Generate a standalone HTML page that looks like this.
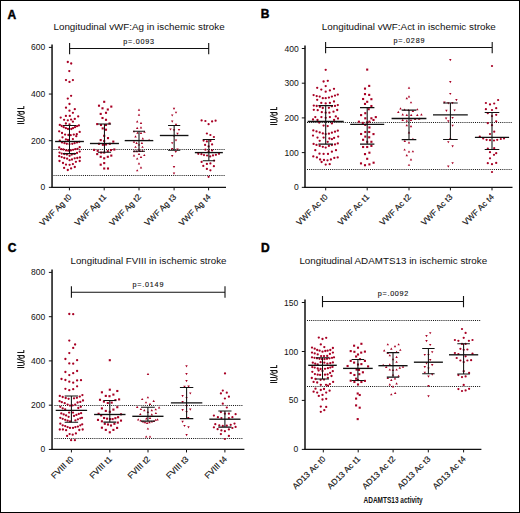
<!DOCTYPE html>
<html><head><meta charset="utf-8"><title>Longitudinal vWF, FVIII, ADAMTS13 in ischemic stroke</title>
<style>
html,body{margin:0;padding:0;background:#fff;}
body{width:520px;height:513px;overflow:hidden;}
svg{display:block;font-family:"Liberation Sans",sans-serif;}
.let{font-size:12.0px;font-weight:bold;fill:#000;stroke:#000;stroke-width:0.45;}
.tit{font-size:9.6px;fill:#111;}
.pt{font-size:7.2px;fill:#111;stroke:#111;stroke-width:0.12;}
.yl{font-size:8.5px;fill:#111;text-anchor:end;}
.xl{font-size:8.3px;fill:#111;text-anchor:end;stroke:#111;stroke-width:0.15;}
.ylp{stroke:#151515;stroke-width:1.05;fill:none;}
.ylab{font-size:9.0px;fill:#111;text-anchor:middle;font-weight:bold;}
.br{stroke:#111;stroke-width:1.1;fill:none;}
.dt{stroke:#111;stroke-width:1.0;stroke-dasharray:1 1.1;fill:none;}
.ax{stroke:#111;stroke-width:1.5;fill:none;}
.axx{stroke:#111;stroke-width:1.25;fill:none;}
.tk{stroke:#111;stroke-width:1;fill:none;}
.vt{stroke:#111;stroke-width:1.05;fill:none;}
.iq{stroke:#111;stroke-width:1.05;fill:none;}
.md{stroke:#111;stroke-width:1.35;fill:none;}
.xt{font-size:9.8px;fill:#111;font-weight:bold;}
</style></head>
<body>
<svg width="520" height="513" viewBox="0 0 520 513">
<rect x="0" y="0" width="520" height="513" fill="#fff"/>
<rect x="0.5" y="0.5" width="519" height="512" fill="none" stroke="#000" stroke-width="1"/>
<text x="7.6" y="18.8" class="let">A</text>
<text x="53.5" y="29.7" class="tit" textLength="171.2" lengthAdjust="spacingAndGlyphs">Longitudinal vWF:Ag in ischemic stroke</text>
<text x="123.3" y="43.6" class="pt" textLength="30.7" lengthAdjust="spacing">p=.0093</text>
<path class="br" d="M69.6 48.45H208.7 M69.6 43V54.3 M208.7 43V54.3"/>
<path class="dt" d="M53.5 149.5H225.2"/>
<path class="dt" d="M53.5 175.5H225.2"/>
<path class="ax" d="M52.05 44.5V188"/>
<path class="axx" d="M51.3 187.35H226"/>
<path class="tk" d="M48.85 47.4H52.05"/>
<text x="45.3" y="50.4" class="yl">600</text>
<path class="tk" d="M48.85 94.05H52.05"/>
<text x="45.3" y="97.05" class="yl">400</text>
<path class="tk" d="M48.85 140.7H52.05"/>
<text x="45.3" y="143.7" class="yl">200</text>
<path class="tk" d="M48.85 187.35H52.05"/>
<text x="45.3" y="190.35" class="yl">0</text>
<path class="tk" d="M69.4 187.35V190.35"/>
<text class="xl" transform="translate(72 197.55) rotate(-45)" textLength="40.85" lengthAdjust="spacing">VWF Ag t0</text>
<path class="tk" d="M104.2 187.35V190.35"/>
<text class="xl" transform="translate(106.8 197.55) rotate(-45)" textLength="40.85" lengthAdjust="spacing">VWF Ag t1</text>
<path class="tk" d="M139 187.35V190.35"/>
<text class="xl" transform="translate(141.6 197.55) rotate(-45)" textLength="40.85" lengthAdjust="spacing">VWF Ag t2</text>
<path class="tk" d="M174.1 187.35V190.35"/>
<text class="xl" transform="translate(176.7 197.55) rotate(-45)" textLength="40.85" lengthAdjust="spacing">VWF Ag t3</text>
<path class="tk" d="M208.6 187.35V190.35"/>
<text class="xl" transform="translate(211.2 197.55) rotate(-45)" textLength="40.85" lengthAdjust="spacing">VWF Ag t4</text>
<path class="ylp" transform="translate(24.3 124) rotate(-90)" d="M0.5 0V-7 M2.5 -7V-2.2Q2.5 0 4.0 0Q5.5 0 5.5 -2.2V-7 M6.6 0.3L9.2 -7.3 M12.5 -7V0M12.5 -2.6Q12.5 -5.3 11.1 -5.3Q9.8 -5.3 9.8 -2.6Q9.8 0 11.1 0Q12.5 0 12.5 -2.6 M15.5 -7V-0.5H17.9"/>
<g fill="#a80024"><circle cx="67.8" cy="62" r="1.15"/><circle cx="71.2" cy="63.5" r="1.15"/><circle cx="69.3" cy="71.1" r="1.15"/><circle cx="66" cy="80.1" r="1.15"/><circle cx="72.9" cy="80.1" r="1.15"/><circle cx="69.5" cy="81.9" r="1.15"/><circle cx="71.1" cy="95.8" r="1.15"/><circle cx="67.8" cy="98.6" r="1.15"/><circle cx="69.5" cy="104" r="1.15"/><circle cx="66" cy="107.7" r="1.15"/><circle cx="74.8" cy="109.2" r="1.15"/><circle cx="69.5" cy="110.7" r="1.15"/><circle cx="72.9" cy="112.8" r="1.15"/><circle cx="65.9" cy="115.9" r="1.15"/><circle cx="69.8" cy="115.9" r="1.15"/><circle cx="60.7" cy="117.6" r="1.15"/><circle cx="78.2" cy="116.4" r="1.15"/><circle cx="64.1" cy="119.8" r="1.15"/><circle cx="67.8" cy="120.3" r="1.15"/><circle cx="71.1" cy="119.6" r="1.15"/><circle cx="74.8" cy="118.9" r="1.15"/><circle cx="72.9" cy="121.7" r="1.15"/><circle cx="65.9" cy="123.5" r="1.15"/><circle cx="69.5" cy="124.3" r="1.15"/><circle cx="59.8" cy="124.9" r="1.15"/><circle cx="61.7" cy="126" r="1.15"/><circle cx="63.7" cy="127.2" r="1.15"/><circle cx="65.9" cy="128.2" r="1.15"/><circle cx="68" cy="129" r="1.15"/><circle cx="71.3" cy="129" r="1.15"/><circle cx="73" cy="128.2" r="1.15"/><circle cx="75" cy="127.2" r="1.15"/><circle cx="77" cy="126.2" r="1.15"/><circle cx="78.9" cy="125.4" r="1.15"/><circle cx="59.2" cy="131.3" r="1.15"/><circle cx="62" cy="133" r="1.15"/><circle cx="65.1" cy="134.6" r="1.15"/><circle cx="68.4" cy="135" r="1.15"/><circle cx="70.7" cy="135.2" r="1.15"/><circle cx="73.8" cy="134.6" r="1.15"/><circle cx="76.8" cy="134.2" r="1.15"/><circle cx="79.7" cy="131.9" r="1.15"/><circle cx="76.3" cy="136.2" r="1.15"/><circle cx="62.5" cy="137.3" r="1.15"/><circle cx="65.9" cy="139.4" r="1.15"/><circle cx="68" cy="140" r="1.15"/><circle cx="72.9" cy="139.1" r="1.15"/><circle cx="59.8" cy="140.7" r="1.15"/><circle cx="62" cy="142.4" r="1.15"/><circle cx="64.5" cy="143.2" r="1.15"/><circle cx="66.8" cy="143.8" r="1.15"/><circle cx="69.5" cy="144.1" r="1.15"/><circle cx="72.3" cy="143.8" r="1.15"/><circle cx="74.6" cy="143.2" r="1.15"/><circle cx="77" cy="142.4" r="1.15"/><circle cx="79.3" cy="141.8" r="1.15"/><circle cx="59.2" cy="147.5" r="1.15"/><circle cx="79.7" cy="147.2" r="1.15"/><circle cx="61.2" cy="149.2" r="1.15"/><circle cx="63.4" cy="149.5" r="1.15"/><circle cx="66" cy="150.4" r="1.15"/><circle cx="68.2" cy="150.7" r="1.15"/><circle cx="70.9" cy="150.4" r="1.15"/><circle cx="73.1" cy="149.8" r="1.15"/><circle cx="75.3" cy="149.2" r="1.15"/><circle cx="77.5" cy="148.8" r="1.15"/><circle cx="59.5" cy="152.6" r="1.15"/><circle cx="61.7" cy="153.6" r="1.15"/><circle cx="64.3" cy="154" r="1.15"/><circle cx="66.9" cy="154.5" r="1.15"/><circle cx="69.6" cy="155.8" r="1.15"/><circle cx="71.8" cy="154.5" r="1.15"/><circle cx="74.4" cy="153.9" r="1.15"/><circle cx="77" cy="153" r="1.15"/><circle cx="79.7" cy="151.6" r="1.15"/><circle cx="59.2" cy="156.2" r="1.15"/><circle cx="61.7" cy="157.1" r="1.15"/><circle cx="64.3" cy="158" r="1.15"/><circle cx="67.1" cy="158.7" r="1.15"/><circle cx="69.6" cy="160.2" r="1.15"/><circle cx="72" cy="159.5" r="1.15"/><circle cx="74.7" cy="158.3" r="1.15"/><circle cx="77.3" cy="158" r="1.15"/><circle cx="79.9" cy="157.4" r="1.15"/><circle cx="59.5" cy="161" r="1.15"/><circle cx="63" cy="163" r="1.15"/><circle cx="66" cy="164.6" r="1.15"/><circle cx="69.6" cy="164.8" r="1.15"/><circle cx="72.9" cy="164.1" r="1.15"/><circle cx="75.9" cy="161.8" r="1.15"/><circle cx="79.7" cy="161" r="1.15"/><circle cx="64.1" cy="167.9" r="1.15"/><circle cx="67.8" cy="170" r="1.15"/><circle cx="71.1" cy="168.4" r="1.15"/><circle cx="74.8" cy="167" r="1.15"/><rect x="103.15" y="100.75" width="2.1" height="2.1"/><rect x="97.95" y="104.65" width="2.1" height="2.1"/><rect x="110.25" y="105.55" width="2.1" height="2.1"/><rect x="101.45" y="107.25" width="2.1" height="2.1"/><rect x="106.75" y="108.45" width="2.1" height="2.1"/><rect x="104.95" y="111.75" width="2.1" height="2.1"/><rect x="99.65" y="112.85" width="2.1" height="2.1"/><rect x="101.45" y="116.95" width="2.1" height="2.1"/><rect x="104.95" y="118.75" width="2.1" height="2.1"/><rect x="96.15" y="123.05" width="2.1" height="2.1"/><rect x="99.95" y="123.95" width="2.1" height="2.1"/><rect x="104.95" y="123.95" width="2.1" height="2.1"/><rect x="108.45" y="122.45" width="2.1" height="2.1"/><rect x="101.65" y="127.35" width="2.1" height="2.1"/><rect x="104.95" y="128.65" width="2.1" height="2.1"/><rect x="103.15" y="134.75" width="2.1" height="2.1"/><rect x="106.95" y="137.05" width="2.1" height="2.1"/><rect x="99.65" y="139.05" width="2.1" height="2.1"/><rect x="103.15" y="139.95" width="2.1" height="2.1"/><rect x="112.25" y="140.55" width="2.1" height="2.1"/><rect x="97.95" y="142.75" width="2.1" height="2.1"/><rect x="101.85" y="143.75" width="2.1" height="2.1"/><rect x="104.95" y="143.45" width="2.1" height="2.1"/><rect x="108.75" y="142.75" width="2.1" height="2.1"/><rect x="93.05" y="148.85" width="2.1" height="2.1"/><rect x="96.65" y="149.75" width="2.1" height="2.1"/><rect x="100.15" y="151.55" width="2.1" height="2.1"/><rect x="103.15" y="151.55" width="2.1" height="2.1"/><rect x="106.75" y="150.15" width="2.1" height="2.1"/><rect x="109.95" y="149.05" width="2.1" height="2.1"/><rect x="113.25" y="148.45" width="2.1" height="2.1"/><rect x="96.15" y="153.05" width="2.1" height="2.1"/><rect x="99.65" y="155.75" width="2.1" height="2.1"/><rect x="103.15" y="157.25" width="2.1" height="2.1"/><rect x="106.75" y="155.75" width="2.1" height="2.1"/><rect x="110.25" y="154.55" width="2.1" height="2.1"/><rect x="103.15" y="162.05" width="2.1" height="2.1"/><rect x="99.65" y="163.65" width="2.1" height="2.1"/><rect x="103.15" y="167.45" width="2.1" height="2.1"/><rect x="106.95" y="167.45" width="2.1" height="2.1"/><path d="M139 108.54L140.22 110.68L137.78 110.68Z"/><path d="M139 113.54L140.22 115.68L137.78 115.68Z"/><path d="M137.2 120.34L138.42 122.48L135.98 122.48Z"/><path d="M141 121.84L142.22 123.98L139.78 123.98Z"/><path d="M137.2 126.74L138.42 128.88L135.98 128.88Z"/><path d="M141 126.34L142.22 128.48L139.78 128.48Z"/><path d="M134 130.14L135.22 132.28L132.78 132.28Z"/><path d="M144.5 130.64L145.72 132.78L143.28 132.78Z"/><path d="M137.5 131.54L138.72 133.68L136.28 133.68Z"/><path d="M141 131.74L142.22 133.88L139.78 133.88Z"/><path d="M135.5 135.24L136.72 137.38L134.28 137.38Z"/><path d="M142.8 137.34L144.02 139.48L141.58 139.48Z"/><path d="M149.1 138.84L150.32 140.98L147.88 140.98Z"/><path d="M134 140.54L135.22 142.68L132.78 142.68Z"/><path d="M136.6 141.84L137.82 143.98L135.38 143.98Z"/><path d="M141.9 141.84L143.12 143.98L140.68 143.98Z"/><path d="M139 143.44L140.22 145.58L137.78 145.58Z"/><path d="M135.5 145.64L136.72 147.78L134.28 147.78Z"/><path d="M142.5 145.64L143.72 147.78L141.28 147.78Z"/><path d="M139 148.24L140.22 150.38L137.78 150.38Z"/><path d="M134.2 150.04L135.42 152.18L132.98 152.18Z"/><path d="M136.8 150.04L138.02 152.18L135.58 152.18Z"/><path d="M139.9 149.84L141.12 151.98L138.68 151.98Z"/><path d="M142.5 149.84L143.72 151.98L141.28 151.98Z"/><path d="M134 154.24L135.22 156.38L132.78 156.38Z"/><path d="M139 152.84L140.22 154.98L137.78 154.98Z"/><path d="M141 155.74L142.22 157.88L139.78 157.88Z"/><path d="M144.3 153.94L145.52 156.08L143.08 156.08Z"/><path d="M137.2 157.44L138.42 159.58L135.98 159.58Z"/><path d="M139 162.34L140.22 164.48L137.78 164.48Z"/><path d="M141 166.24L142.22 168.38L139.78 168.38Z"/><path d="M137.2 169.14L138.42 171.28L135.98 171.28Z"/><path d="M174 109.96L175.22 107.82L172.78 107.82Z"/><path d="M176 113.86L177.22 111.72L174.78 111.72Z"/><path d="M172.2 116.56L173.42 114.42L170.98 114.42Z"/><path d="M172.2 122.66L173.42 120.52L170.98 120.52Z"/><path d="M176 125.96L177.22 123.82L174.78 123.82Z"/><path d="M170.5 130.56L171.72 128.42L169.28 128.42Z"/><path d="M174 131.46L175.22 129.32L172.78 129.32Z"/><path d="M179 131.06L180.22 128.92L177.78 128.92Z"/><path d="M177.5 134.96L178.72 132.82L176.28 132.82Z"/><path d="M174 137.36L175.22 135.22L172.78 135.22Z"/><path d="M176 141.56L177.22 139.42L174.78 139.42Z"/><path d="M172.2 144.36L173.42 142.22L170.98 142.22Z"/><path d="M172.2 150.16L173.42 148.02L170.98 148.02Z"/><path d="M177.5 150.56L178.72 148.42L176.28 148.42Z"/><path d="M175.8 153.06L177.02 150.92L174.58 150.92Z"/><path d="M172.2 157.16L173.42 155.02L170.98 155.02Z"/><path d="M174 168.16L175.22 166.02L172.78 166.02Z"/><path d="M174 174.76L175.22 172.62L172.78 172.62Z"/><circle cx="201.6" cy="120.4" r="1.12"/><circle cx="205.4" cy="121" r="1.12"/><circle cx="212.1" cy="121.4" r="1.12"/><circle cx="215.6" cy="120.7" r="1.12"/><circle cx="208.6" cy="124.2" r="1.12"/><circle cx="206.9" cy="133.5" r="1.12"/><circle cx="210.4" cy="135" r="1.12"/><circle cx="213.9" cy="137" r="1.12"/><circle cx="203.6" cy="140.6" r="1.12"/><circle cx="206.9" cy="141.4" r="1.12"/><circle cx="210.4" cy="140.9" r="1.12"/><circle cx="205.1" cy="144.9" r="1.12"/><circle cx="212.1" cy="144.4" r="1.12"/><circle cx="208.6" cy="146.4" r="1.12"/><circle cx="205.4" cy="149.7" r="1.12"/><circle cx="212.1" cy="150.4" r="1.12"/><circle cx="208.6" cy="151.3" r="1.12"/><circle cx="198.3" cy="153.8" r="1.12"/><circle cx="201.4" cy="154.2" r="1.12"/><circle cx="204" cy="155.1" r="1.12"/><circle cx="207.1" cy="155.5" r="1.12"/><circle cx="210.2" cy="156.4" r="1.12"/><circle cx="213" cy="155.4" r="1.12"/><circle cx="215.9" cy="154.8" r="1.12"/><circle cx="219" cy="153.8" r="1.12"/><circle cx="214.1" cy="160.6" r="1.12"/><circle cx="201.6" cy="161.9" r="1.12"/><circle cx="206.9" cy="163.9" r="1.12"/><circle cx="210.4" cy="163.4" r="1.12"/><circle cx="203.3" cy="165.9" r="1.12"/><circle cx="213.9" cy="166.2" r="1.12"/><circle cx="206.9" cy="168.9" r="1.12"/><circle cx="210.4" cy="170.3" r="1.12"/><circle cx="208.6" cy="176.8" r="1.12"/></g>
<g><path class="vt" d="M69.5 125.4V153.6"/><path class="iq" d="M63 125.4H76 M63 153.6H76"/><path class="md" d="M55.1 141.5H83.9"/><path class="vt" d="M104.45 124V152.3"/><path class="iq" d="M97.85 124H111.05 M97.85 152.3H111.05"/><path class="md" d="M89.95 143.5H118.95"/><path class="vt" d="M139 131.3V151.3"/><path class="iq" d="M133 131.3H145 M133 151.3H145"/><path class="md" d="M124.7 140.6H153.3"/><path class="vt" d="M174.15 125.5V150.3"/><path class="iq" d="M168.05 125.5H180.25 M168.05 150.3H180.25"/><path class="md" d="M159.85 135.5H188.45"/><path class="vt" d="M208.85 139.4V160.8"/><path class="iq" d="M202.75 139.4H214.95 M202.75 160.8H214.95"/><path class="md" d="M194.85 152.6H222.85"/></g>
<text x="260.8" y="18" class="let">B</text>
<text x="321.8" y="29.6" class="tit" textLength="174" lengthAdjust="spacingAndGlyphs">Longitudinal vWF:Act in ischemic stroke</text>
<text x="393.6" y="42.7" class="pt" textLength="30.8" lengthAdjust="spacing">p=.0289</text>
<path class="br" d="M325.6 47.45H492.2 M325.6 41.9V53.2 M492.2 41.9V53.2"/>
<path class="dt" d="M307 122.5H512.2"/>
<path class="dt" d="M307 169.5H512.2"/>
<path class="ax" d="M305 45.5V188"/>
<path class="axx" d="M304.3 187.35H512.5"/>
<path class="tk" d="M301.8 48.5H305"/>
<text x="298.7" y="51.5" class="yl">400</text>
<path class="tk" d="M301.8 83.2H305"/>
<text x="298.7" y="86.2" class="yl">300</text>
<path class="tk" d="M301.8 117.9H305"/>
<text x="298.7" y="120.9" class="yl">200</text>
<path class="tk" d="M301.8 152.6H305"/>
<text x="298.7" y="155.6" class="yl">100</text>
<path class="tk" d="M301.8 187.35H305"/>
<text x="298.7" y="190.35" class="yl">0</text>
<path class="tk" d="M325.7 187.35V190.35"/>
<text class="xl" transform="translate(328.3 197.55) rotate(-45)" textLength="40.37" lengthAdjust="spacing">VWF Ac t0</text>
<path class="tk" d="M367.2 187.35V190.35"/>
<text class="xl" transform="translate(369.8 197.55) rotate(-45)" textLength="40.37" lengthAdjust="spacing">VWF Ac t1</text>
<path class="tk" d="M409 187.35V190.35"/>
<text class="xl" transform="translate(411.6 197.55) rotate(-45)" textLength="40.37" lengthAdjust="spacing">VWF Ac t2</text>
<path class="tk" d="M450.4 187.35V190.35"/>
<text class="xl" transform="translate(453 197.55) rotate(-45)" textLength="40.37" lengthAdjust="spacing">VWF Ac t3</text>
<path class="tk" d="M492 187.35V190.35"/>
<text class="xl" transform="translate(494.6 197.55) rotate(-45)" textLength="40.37" lengthAdjust="spacing">VWF Ac t4</text>
<path class="ylp" transform="translate(277.2 125) rotate(-90)" d="M0.5 0V-7 M2.5 -7V-2.2Q2.5 0 4.0 0Q5.5 0 5.5 -2.2V-7 M6.6 0.3L9.2 -7.3 M12.5 -7V0M12.5 -2.6Q12.5 -5.3 11.1 -5.3Q9.8 -5.3 9.8 -2.6Q9.8 0 11.1 0Q12.5 0 12.5 -2.6 M15.5 -7V-0.5H17.9"/>
<g fill="#a80024"><circle cx="325.7" cy="69.8" r="1.15"/><circle cx="323.6" cy="81.5" r="1.15"/><circle cx="327.8" cy="80.8" r="1.15"/><circle cx="325.7" cy="86.1" r="1.15"/><circle cx="317.2" cy="87.8" r="1.15"/><circle cx="321.3" cy="89.6" r="1.15"/><circle cx="334" cy="88.8" r="1.15"/><circle cx="329.9" cy="90.4" r="1.15"/><circle cx="325.7" cy="91.7" r="1.15"/><circle cx="313.6" cy="95.1" r="1.15"/><circle cx="316.7" cy="96.1" r="1.15"/><circle cx="319.7" cy="96.6" r="1.15"/><circle cx="322.8" cy="98.2" r="1.15"/><circle cx="325.7" cy="98.2" r="1.15"/><circle cx="328.9" cy="97.6" r="1.15"/><circle cx="331.9" cy="96.6" r="1.15"/><circle cx="335" cy="95.6" r="1.15"/><circle cx="337.8" cy="94.6" r="1.15"/><circle cx="317.2" cy="99.8" r="1.15"/><circle cx="321.3" cy="102.9" r="1.15"/><circle cx="325.7" cy="103.4" r="1.15"/><circle cx="329.9" cy="102.9" r="1.15"/><circle cx="334" cy="101.5" r="1.15"/><circle cx="313.8" cy="105.6" r="1.15"/><circle cx="316.7" cy="106" r="1.15"/><circle cx="319.9" cy="106.8" r="1.15"/><circle cx="322.8" cy="108" r="1.15"/><circle cx="328.9" cy="107.8" r="1.15"/><circle cx="331.9" cy="106.3" r="1.15"/><circle cx="335" cy="105.9" r="1.15"/><circle cx="337.8" cy="105.1" r="1.15"/><circle cx="313.8" cy="109.8" r="1.15"/><circle cx="317.7" cy="110.2" r="1.15"/><circle cx="337.2" cy="110" r="1.15"/><circle cx="321.8" cy="112.2" r="1.15"/><circle cx="325.7" cy="112.7" r="1.15"/><circle cx="329.4" cy="112.7" r="1.15"/><circle cx="333.5" cy="111.7" r="1.15"/><circle cx="315.3" cy="117.1" r="1.15"/><circle cx="321.4" cy="117.1" r="1.15"/><circle cx="325.7" cy="117.8" r="1.15"/><circle cx="329.9" cy="117.1" r="1.15"/><circle cx="335.8" cy="116.4" r="1.15"/><circle cx="338" cy="118.5" r="1.15"/><circle cx="313" cy="119.5" r="1.15"/><circle cx="317.5" cy="120" r="1.15"/><circle cx="319.2" cy="122.6" r="1.15"/><circle cx="331.9" cy="123.4" r="1.15"/><circle cx="334.1" cy="120" r="1.15"/><circle cx="323.6" cy="125.6" r="1.15"/><circle cx="327.7" cy="126.1" r="1.15"/><circle cx="313.3" cy="130.4" r="1.15"/><circle cx="316.5" cy="131.4" r="1.15"/><circle cx="319.7" cy="132.4" r="1.15"/><circle cx="322.8" cy="133.4" r="1.15"/><circle cx="325.7" cy="134.1" r="1.15"/><circle cx="328.9" cy="133.7" r="1.15"/><circle cx="331.9" cy="132.7" r="1.15"/><circle cx="335" cy="131.7" r="1.15"/><circle cx="337.8" cy="130.7" r="1.15"/><circle cx="313" cy="135.6" r="1.15"/><circle cx="317.5" cy="137.6" r="1.15"/><circle cx="323.6" cy="137.6" r="1.15"/><circle cx="329.4" cy="138.5" r="1.15"/><circle cx="331.9" cy="139.2" r="1.15"/><circle cx="334.1" cy="137.9" r="1.15"/><circle cx="338.2" cy="136.6" r="1.15"/><circle cx="319.7" cy="140.8" r="1.15"/><circle cx="327.7" cy="141.8" r="1.15"/><circle cx="313.6" cy="143.9" r="1.15"/><circle cx="316.5" cy="144.9" r="1.15"/><circle cx="319.7" cy="145.9" r="1.15"/><circle cx="322.8" cy="146.8" r="1.15"/><circle cx="325.7" cy="147.6" r="1.15"/><circle cx="328.9" cy="145.9" r="1.15"/><circle cx="331.9" cy="145.1" r="1.15"/><circle cx="335" cy="144.4" r="1.15"/><circle cx="337.8" cy="143.4" r="1.15"/><circle cx="315.3" cy="150.2" r="1.15"/><circle cx="336" cy="150.2" r="1.15"/><circle cx="319.5" cy="153.7" r="1.15"/><circle cx="323.6" cy="153.9" r="1.15"/><circle cx="328" cy="153.9" r="1.15"/><circle cx="331.9" cy="151.7" r="1.15"/><circle cx="313.3" cy="156.4" r="1.15"/><circle cx="316.9" cy="157.4" r="1.15"/><circle cx="320.1" cy="159.5" r="1.15"/><circle cx="324" cy="160" r="1.15"/><circle cx="327.5" cy="160.3" r="1.15"/><circle cx="330.9" cy="159.5" r="1.15"/><circle cx="334.3" cy="157.9" r="1.15"/><circle cx="337.7" cy="157.4" r="1.15"/><circle cx="321.6" cy="162" r="1.15"/><circle cx="325.7" cy="164.6" r="1.15"/><circle cx="329.7" cy="164.2" r="1.15"/><rect x="366.15" y="68.55" width="2.1" height="2.1"/><rect x="368.15" y="84.85" width="2.1" height="2.1"/><rect x="363.95" y="87.55" width="2.1" height="2.1"/><rect x="363.95" y="93.05" width="2.1" height="2.1"/><rect x="368.15" y="93.85" width="2.1" height="2.1"/><rect x="362.05" y="97.95" width="2.1" height="2.1"/><rect x="370.35" y="98.15" width="2.1" height="2.1"/><rect x="366.15" y="100.75" width="2.1" height="2.1"/><rect x="363.95" y="102.85" width="2.1" height="2.1"/><rect x="370.35" y="104.95" width="2.1" height="2.1"/><rect x="367.65" y="108.15" width="2.1" height="2.1"/><rect x="364.25" y="112.15" width="2.1" height="2.1"/><rect x="360.05" y="114.05" width="2.1" height="2.1"/><rect x="364.25" y="117.25" width="2.1" height="2.1"/><rect x="370.35" y="117.25" width="2.1" height="2.1"/><rect x="372.45" y="118.95" width="2.1" height="2.1"/><rect x="374.75" y="116.05" width="2.1" height="2.1"/><rect x="357.85" y="120.65" width="2.1" height="2.1"/><rect x="361.75" y="121.85" width="2.1" height="2.1"/><rect x="368.35" y="120.65" width="2.1" height="2.1"/><rect x="365.95" y="121.35" width="2.1" height="2.1"/><rect x="364.25" y="123.85" width="2.1" height="2.1"/><rect x="368.35" y="126.45" width="2.1" height="2.1"/><rect x="364.25" y="130.95" width="2.1" height="2.1"/><rect x="368.15" y="130.95" width="2.1" height="2.1"/><rect x="360.05" y="132.95" width="2.1" height="2.1"/><rect x="372.45" y="133.05" width="2.1" height="2.1"/><rect x="364.25" y="135.55" width="2.1" height="2.1"/><rect x="368.15" y="136.25" width="2.1" height="2.1"/><rect x="362.05" y="138.75" width="2.1" height="2.1"/><rect x="366.15" y="140.75" width="2.1" height="2.1"/><rect x="370.35" y="140.75" width="2.1" height="2.1"/><rect x="370.35" y="144.85" width="2.1" height="2.1"/><rect x="362.05" y="145.95" width="2.1" height="2.1"/><rect x="366.15" y="145.95" width="2.1" height="2.1"/><rect x="363.95" y="153.05" width="2.1" height="2.1"/><rect x="368.35" y="151.65" width="2.1" height="2.1"/><rect x="366.15" y="157.75" width="2.1" height="2.1"/><rect x="359.95" y="162.35" width="2.1" height="2.1"/><rect x="363.95" y="164.15" width="2.1" height="2.1"/><rect x="368.35" y="163.35" width="2.1" height="2.1"/><rect x="372.55" y="161.65" width="2.1" height="2.1"/><path d="M409 86.54L410.22 88.68L407.78 88.68Z"/><path d="M409 95.34L410.22 97.48L407.78 97.48Z"/><path d="M406.8 97.04L408.02 99.18L405.58 99.18Z"/><path d="M411 101.14L412.22 103.28L409.78 103.28Z"/><path d="M400.5 107.24L401.72 109.38L399.28 109.38Z"/><path d="M404.6 108.44L405.82 110.58L403.38 110.58Z"/><path d="M417.3 108.14L418.52 110.28L416.08 110.28Z"/><path d="M412.9 109.74L414.12 111.88L411.68 111.88Z"/><path d="M408.5 108.94L409.72 111.08L407.28 111.08Z"/><path d="M398.3 110.74L399.52 112.88L397.08 112.88Z"/><path d="M402.7 113.34L403.92 115.48L401.48 115.48Z"/><path d="M406.8 113.84L408.02 115.98L405.58 115.98Z"/><path d="M411.2 113.84L412.42 115.98L409.98 115.98Z"/><path d="M417.3 113.84L418.52 115.98L416.08 115.98Z"/><path d="M421.4 113.34L422.62 115.48L420.18 115.48Z"/><path d="M402.7 118.74L403.92 120.88L401.48 120.88Z"/><path d="M406.8 119.54L408.02 121.68L405.58 121.68Z"/><path d="M411 118.94L412.22 121.08L409.78 121.08Z"/><path d="M415.1 117.94L416.32 120.08L413.88 120.08Z"/><path d="M419.2 117.54L420.42 119.68L417.98 119.68Z"/><path d="M406.8 124.04L408.02 126.18L405.58 126.18Z"/><path d="M411 125.04L412.22 127.18L409.78 127.18Z"/><path d="M409 131.24L410.22 133.38L407.78 133.38Z"/><path d="M412.9 137.74L414.12 139.88L411.68 139.88Z"/><path d="M404.8 139.74L406.02 141.88L403.58 141.88Z"/><path d="M409 141.34L410.22 143.48L407.78 143.48Z"/><path d="M404.6 148.44L405.82 150.58L403.38 150.58Z"/><path d="M409 150.44L410.22 152.58L407.78 152.58Z"/><path d="M412.9 150.14L414.12 152.28L411.68 152.28Z"/><path d="M406.8 154.04L408.02 156.18L405.58 156.18Z"/><path d="M411 158.24L412.22 160.38L409.78 160.38Z"/><path d="M409 163.64L410.22 165.78L407.78 165.78Z"/><path d="M450.3 61.16L451.52 59.02L449.08 59.02Z"/><path d="M450.3 83.16L451.52 81.02L449.08 81.02Z"/><path d="M450.3 95.06L451.52 92.92L449.08 92.92Z"/><path d="M456.4 101.16L457.62 99.02L455.18 99.02Z"/><path d="M444.4 103.76L445.62 101.62L443.18 101.62Z"/><path d="M448.3 104.46L449.52 102.32L447.08 102.32Z"/><path d="M452.4 104.16L453.62 102.02L451.18 102.02Z"/><path d="M446.4 111.96L447.62 109.82L445.18 109.82Z"/><path d="M454.6 111.56L455.82 109.42L453.38 109.42Z"/><path d="M446.1 119.76L447.32 117.62L444.88 117.62Z"/><path d="M452.6 119.06L453.82 116.92L451.38 116.92Z"/><path d="M448.3 122.46L449.52 120.32L447.08 120.32Z"/><path d="M452.6 126.86L453.82 124.72L451.38 124.72Z"/><path d="M450.3 140.06L451.52 137.92L449.08 137.92Z"/><path d="M448.3 143.36L449.52 141.22L447.08 141.22Z"/><path d="M452.6 147.46L453.82 145.32L451.38 145.32Z"/><path d="M452.6 164.36L453.82 162.22L451.38 162.22Z"/><path d="M448.3 167.66L449.52 165.52L447.08 165.52Z"/><circle cx="492" cy="66" r="1.12"/><circle cx="498.1" cy="100" r="1.12"/><circle cx="485.9" cy="103" r="1.12"/><circle cx="490" cy="104.4" r="1.12"/><circle cx="494.2" cy="103.5" r="1.12"/><circle cx="485.9" cy="109.2" r="1.12"/><circle cx="492" cy="110" r="1.12"/><circle cx="496.2" cy="108.2" r="1.12"/><circle cx="487.8" cy="113.2" r="1.12"/><circle cx="496.2" cy="114.8" r="1.12"/><circle cx="492" cy="116.1" r="1.12"/><circle cx="496.2" cy="121.3" r="1.12"/><circle cx="487.8" cy="123.2" r="1.12"/><circle cx="492" cy="125.2" r="1.12"/><circle cx="494.2" cy="131.7" r="1.12"/><circle cx="490" cy="134" r="1.12"/><circle cx="479.8" cy="136.6" r="1.12"/><circle cx="483.2" cy="138.5" r="1.12"/><circle cx="486.6" cy="139.8" r="1.12"/><circle cx="490" cy="140.2" r="1.12"/><circle cx="494" cy="140.5" r="1.12"/><circle cx="497.2" cy="139.8" r="1.12"/><circle cx="500.8" cy="139" r="1.12"/><circle cx="504" cy="138.5" r="1.12"/><circle cx="487.8" cy="148.5" r="1.12"/><circle cx="494.2" cy="148.2" r="1.12"/><circle cx="490" cy="152.2" r="1.12"/><circle cx="496.2" cy="153.2" r="1.12"/><circle cx="494" cy="154.8" r="1.12"/><circle cx="490" cy="158.3" r="1.12"/><circle cx="487.8" cy="163.2" r="1.12"/><circle cx="492" cy="164.2" r="1.12"/><circle cx="496.2" cy="162.9" r="1.12"/><circle cx="492" cy="172" r="1.12"/></g>
<g><path class="vt" d="M325.7 105.6V144.1"/><path class="iq" d="M318.4 105.6H333 M318.4 144.1H333"/><path class="md" d="M307.7 121.5H343.7"/><path class="vt" d="M367.2 107.6V144.1"/><path class="iq" d="M360 107.6H374.4 M360 144.1H374.4"/><path class="md" d="M350.2 124.4H384.2"/><path class="vt" d="M409 110.1V139.6"/><path class="iq" d="M401.7 110.1H416.3 M401.7 139.6H416.3"/><path class="md" d="M391.6 118.5H426.4"/><path class="vt" d="M450.4 103V139.4"/><path class="iq" d="M443.1 103H457.7 M443.1 139.4H457.7"/><path class="md" d="M433 114.8H467.8"/><path class="vt" d="M492 112.5V149.4"/><path class="iq" d="M484.7 112.5H499.3 M484.7 149.4H499.3"/><path class="md" d="M474.9 137.4H509.1"/></g>
<text x="7.8" y="251.6" class="let">C</text>
<text x="70.5" y="263.6" class="tit" textLength="156" lengthAdjust="spacingAndGlyphs">Longitudinal FVIII in ischemic stroke</text>
<text x="132.5" y="287.1" class="pt" textLength="30.9" lengthAdjust="spacing">p=.0149</text>
<path class="br" d="M71.4 292.2H225 M71.4 286.3V297.8 M225 286.3V297.8"/>
<path class="dt" d="M54.5 405.5H243.3"/>
<path class="dt" d="M54.5 438.5H243.3"/>
<path class="ax" d="M52.05 269.5V450.1"/>
<path class="axx" d="M51.3 449.45H244.4"/>
<path class="tk" d="M48.85 272.4H52.05"/>
<text x="45.3" y="275.4" class="yl">800</text>
<path class="tk" d="M48.85 316.7H52.05"/>
<text x="45.3" y="319.7" class="yl">600</text>
<path class="tk" d="M48.85 360.9H52.05"/>
<text x="45.3" y="363.9" class="yl">400</text>
<path class="tk" d="M48.85 405.2H52.05"/>
<text x="45.3" y="408.2" class="yl">200</text>
<path class="tk" d="M48.85 449.45H52.05"/>
<text x="45.3" y="452.45" class="yl">0</text>
<path class="tk" d="M71.4 449.45V452.45"/>
<text class="xl" transform="translate(74 459.65) rotate(-45)" textLength="27.55" lengthAdjust="spacing">FVIII t0</text>
<path class="tk" d="M109.8 449.45V452.45"/>
<text class="xl" transform="translate(112.4 459.65) rotate(-45)" textLength="27.55" lengthAdjust="spacing">FVIII t1</text>
<path class="tk" d="M148 449.45V452.45"/>
<text class="xl" transform="translate(150.6 459.65) rotate(-45)" textLength="27.55" lengthAdjust="spacing">FVIII t2</text>
<path class="tk" d="M186.5 449.45V452.45"/>
<text class="xl" transform="translate(189.1 459.65) rotate(-45)" textLength="27.55" lengthAdjust="spacing">FVIII t3</text>
<path class="tk" d="M224.9 449.45V452.45"/>
<text class="xl" transform="translate(227.5 459.65) rotate(-45)" textLength="27.55" lengthAdjust="spacing">FVIII t4</text>
<path class="ylp" transform="translate(24.3 368) rotate(-90)" d="M0.5 0V-7 M2.5 -7V-2.2Q2.5 0 4.0 0Q5.5 0 5.5 -2.2V-7 M6.6 0.3L9.2 -7.3 M12.5 -7V0M12.5 -2.6Q12.5 -5.3 11.1 -5.3Q9.8 -5.3 9.8 -2.6Q9.8 0 11.1 0Q12.5 0 12.5 -2.6 M15.5 -7V-0.5H17.9"/>
<g fill="#a80024"><circle cx="69.3" cy="314" r="1.15"/><circle cx="73.2" cy="314.2" r="1.15"/><circle cx="69.3" cy="340.6" r="1.15"/><circle cx="75.1" cy="344.5" r="1.15"/><circle cx="73.2" cy="347.9" r="1.15"/><circle cx="69.3" cy="353.1" r="1.15"/><circle cx="65.4" cy="359" r="1.15"/><circle cx="77.1" cy="360.2" r="1.15"/><circle cx="69.3" cy="363.4" r="1.15"/><circle cx="73.2" cy="363.7" r="1.15"/><circle cx="65.4" cy="372" r="1.15"/><circle cx="77.1" cy="371" r="1.15"/><circle cx="73.2" cy="373.2" r="1.15"/><circle cx="69.3" cy="375.1" r="1.15"/><circle cx="61.5" cy="379" r="1.15"/><circle cx="65.4" cy="380" r="1.15"/><circle cx="69.3" cy="381.7" r="1.15"/><circle cx="73.2" cy="382.7" r="1.15"/><circle cx="77.1" cy="380.4" r="1.15"/><circle cx="81" cy="380.2" r="1.15"/><circle cx="65.4" cy="388.8" r="1.15"/><circle cx="69.3" cy="390.2" r="1.15"/><circle cx="73.2" cy="389.2" r="1.15"/><circle cx="77.1" cy="386.3" r="1.15"/><circle cx="59.8" cy="395.9" r="1.15"/><circle cx="62.7" cy="397" r="1.15"/><circle cx="65.7" cy="398" r="1.15"/><circle cx="68.6" cy="398.8" r="1.15"/><circle cx="74" cy="398.3" r="1.15"/><circle cx="76.9" cy="397.8" r="1.15"/><circle cx="79.8" cy="396.6" r="1.15"/><circle cx="82.4" cy="395.1" r="1.15"/><circle cx="59.6" cy="401.2" r="1.15"/><circle cx="61.8" cy="402.2" r="1.15"/><circle cx="64.7" cy="403.2" r="1.15"/><circle cx="67.6" cy="404.6" r="1.15"/><circle cx="70" cy="405.6" r="1.15"/><circle cx="72.5" cy="405.4" r="1.15"/><circle cx="75.2" cy="404.6" r="1.15"/><circle cx="77.6" cy="402.5" r="1.15"/><circle cx="80.3" cy="401.9" r="1.15"/><circle cx="83" cy="400.5" r="1.15"/><circle cx="60.3" cy="406.8" r="1.15"/><circle cx="62.7" cy="408.3" r="1.15"/><circle cx="65.2" cy="409.3" r="1.15"/><circle cx="78.3" cy="408" r="1.15"/><circle cx="80.8" cy="406.8" r="1.15"/><circle cx="69.1" cy="412.6" r="1.15"/><circle cx="73" cy="412.6" r="1.15"/><circle cx="61.3" cy="413.4" r="1.15"/><circle cx="63.7" cy="414.4" r="1.15"/><circle cx="66.1" cy="415.4" r="1.15"/><circle cx="68.6" cy="416.8" r="1.15"/><circle cx="74" cy="415.9" r="1.15"/><circle cx="76.4" cy="414.9" r="1.15"/><circle cx="78.8" cy="413.9" r="1.15"/><circle cx="81.1" cy="413.2" r="1.15"/><circle cx="60.3" cy="417.8" r="1.15"/><circle cx="62.7" cy="418.8" r="1.15"/><circle cx="65.2" cy="419.8" r="1.15"/><circle cx="67.6" cy="420.7" r="1.15"/><circle cx="70" cy="421.4" r="1.15"/><circle cx="75.4" cy="420.4" r="1.15"/><circle cx="77.9" cy="419.3" r="1.15"/><circle cx="80.3" cy="418.3" r="1.15"/><circle cx="82" cy="417.8" r="1.15"/><circle cx="60.3" cy="423.7" r="1.15"/><circle cx="62.7" cy="425.3" r="1.15"/><circle cx="65.2" cy="426.1" r="1.15"/><circle cx="67.6" cy="427.1" r="1.15"/><circle cx="70" cy="427.9" r="1.15"/><circle cx="73" cy="427.9" r="1.15"/><circle cx="75.4" cy="427.1" r="1.15"/><circle cx="77.9" cy="426.6" r="1.15"/><circle cx="80.3" cy="425.3" r="1.15"/><circle cx="82.2" cy="424.3" r="1.15"/><circle cx="59.8" cy="429.5" r="1.15"/><circle cx="62.9" cy="429.5" r="1.15"/><circle cx="66.1" cy="430.2" r="1.15"/><circle cx="79.3" cy="430" r="1.15"/><circle cx="82.7" cy="429.5" r="1.15"/><circle cx="67.1" cy="435.9" r="1.15"/><circle cx="69.6" cy="434.1" r="1.15"/><circle cx="72.7" cy="434.7" r="1.15"/><circle cx="75.9" cy="433.4" r="1.15"/><circle cx="71.1" cy="440.2" r="1.15"/><circle cx="74.9" cy="440.2" r="1.15"/><rect x="108.75" y="359.15" width="2.1" height="2.1"/><rect x="108.75" y="388.65" width="2.1" height="2.1"/><rect x="100.85" y="391.25" width="2.1" height="2.1"/><rect x="116.25" y="389.95" width="2.1" height="2.1"/><rect x="104.75" y="394.85" width="2.1" height="2.1"/><rect x="108.45" y="395.15" width="2.1" height="2.1"/><rect x="112.35" y="393.55" width="2.1" height="2.1"/><rect x="98.95" y="398.75" width="2.1" height="2.1"/><rect x="118.05" y="398.35" width="2.1" height="2.1"/><rect x="102.85" y="400.55" width="2.1" height="2.1"/><rect x="114.35" y="399.05" width="2.1" height="2.1"/><rect x="106.75" y="401.95" width="2.1" height="2.1"/><rect x="110.65" y="401.55" width="2.1" height="2.1"/><rect x="100.85" y="407.35" width="2.1" height="2.1"/><rect x="116.25" y="406.15" width="2.1" height="2.1"/><rect x="112.35" y="408.55" width="2.1" height="2.1"/><rect x="104.75" y="409.85" width="2.1" height="2.1"/><rect x="108.75" y="410.75" width="2.1" height="2.1"/><rect x="97.55" y="412.75" width="2.1" height="2.1"/><rect x="119.95" y="413.25" width="2.1" height="2.1"/><rect x="100.15" y="414.35" width="2.1" height="2.1"/><rect x="103.05" y="416.95" width="2.1" height="2.1"/><rect x="106.05" y="417.65" width="2.1" height="2.1"/><rect x="108.95" y="418.05" width="2.1" height="2.1"/><rect x="111.55" y="418.05" width="2.1" height="2.1"/><rect x="114.35" y="417.15" width="2.1" height="2.1"/><rect x="117.05" y="416.15" width="2.1" height="2.1"/><rect x="96.95" y="418.85" width="2.1" height="2.1"/><rect x="119.95" y="419.55" width="2.1" height="2.1"/><rect x="100.85" y="420.25" width="2.1" height="2.1"/><rect x="116.75" y="421.55" width="2.1" height="2.1"/><rect x="103.75" y="422.75" width="2.1" height="2.1"/><rect x="106.95" y="423.45" width="2.1" height="2.1"/><rect x="109.95" y="424.45" width="2.1" height="2.1"/><rect x="113.35" y="422.75" width="2.1" height="2.1"/><rect x="100.85" y="426.65" width="2.1" height="2.1"/><rect x="116.05" y="426.85" width="2.1" height="2.1"/><rect x="104.75" y="428.85" width="2.1" height="2.1"/><rect x="112.35" y="428.85" width="2.1" height="2.1"/><rect x="108.75" y="431.25" width="2.1" height="2.1"/><path d="M148 372.84L149.22 374.98L146.78 374.98Z"/><path d="M147.9 396.14L149.12 398.28L146.68 398.28Z"/><path d="M142.2 397.94L143.42 400.08L140.98 400.08Z"/><path d="M153.7 399.74L154.92 401.88L152.48 401.88Z"/><path d="M146 401.14L147.22 403.28L144.78 403.28Z"/><path d="M150 402.74L151.22 404.88L148.78 404.88Z"/><path d="M137.2 405.74L138.42 407.88L135.98 407.88Z"/><path d="M159.1 406.24L160.32 408.38L157.88 408.38Z"/><path d="M140.9 407.94L142.12 410.08L139.68 410.08Z"/><path d="M144.3 409.04L145.52 411.18L143.08 411.18Z"/><path d="M151.8 409.04L153.02 411.18L150.58 411.18Z"/><path d="M155.7 408.14L156.92 410.28L154.48 410.28Z"/><path d="M147.9 410.84L149.12 412.98L146.68 412.98Z"/><path d="M140.3 412.94L141.52 415.08L139.08 415.08Z"/><path d="M151.8 413.34L153.02 415.48L150.58 415.48Z"/><path d="M155.9 411.94L157.12 414.08L154.68 414.08Z"/><path d="M146.4 417.24L147.62 419.38L145.18 419.38Z"/><path d="M150 416.74L151.22 418.88L148.78 418.88Z"/><path d="M138.2 418.34L139.42 420.48L136.98 420.48Z"/><path d="M140.7 419.44L141.92 421.58L139.48 421.58Z"/><path d="M143 420.44L144.22 422.58L141.78 422.58Z"/><path d="M145 421.04L146.22 423.18L143.78 423.18Z"/><path d="M147.1 421.84L148.32 423.98L145.88 423.98Z"/><path d="M149.4 421.04L150.62 423.18L148.18 423.18Z"/><path d="M151.8 420.44L153.02 422.58L150.58 422.58Z"/><path d="M154 419.94L155.22 422.08L152.78 422.08Z"/><path d="M155.7 418.64L156.92 420.78L154.48 420.78Z"/><path d="M157.5 418.34L158.72 420.48L156.28 420.48Z"/><path d="M147.9 427.44L149.12 429.58L146.68 429.58Z"/><path d="M146.2 435.44L147.42 437.58L144.98 437.58Z"/><path d="M150 435.44L151.22 437.58L148.78 437.58Z"/><path d="M186.5 367.46L187.72 365.32L185.28 365.32Z"/><path d="M186.5 375.16L187.72 373.02L185.28 373.02Z"/><path d="M186.5 382.16L187.72 380.02L185.28 380.02Z"/><path d="M184.5 387.96L185.72 385.82L183.28 385.82Z"/><path d="M188.6 387.76L189.82 385.62L187.38 385.62Z"/><path d="M190.3 394.56L191.52 392.42L189.08 392.42Z"/><path d="M182.6 397.26L183.82 395.12L181.38 395.12Z"/><path d="M186.6 399.06L187.82 396.92L185.38 396.92Z"/><path d="M182.6 403.16L183.82 401.02L181.38 401.02Z"/><path d="M186.6 407.16L187.82 405.02L185.38 405.02Z"/><path d="M182.6 411.26L183.82 409.12L181.38 409.12Z"/><path d="M190.3 410.76L191.52 408.62L189.08 408.62Z"/><path d="M186.6 413.26L187.82 411.12L185.38 411.12Z"/><path d="M188.2 419.16L189.42 417.02L186.98 417.02Z"/><path d="M182.6 422.96L183.82 420.82L181.38 420.82Z"/><path d="M184.5 427.06L185.72 424.92L183.28 424.92Z"/><path d="M188.5 428.46L189.72 426.32L187.28 426.32Z"/><path d="M186.6 436.26L187.82 434.12L185.38 434.12Z"/><circle cx="225" cy="373.4" r="1.12"/><circle cx="222.8" cy="390.6" r="1.12"/><circle cx="220.9" cy="393.4" r="1.12"/><circle cx="226.8" cy="392.7" r="1.12"/><circle cx="228.9" cy="396.7" r="1.12"/><circle cx="224.9" cy="398.5" r="1.12"/><circle cx="222.8" cy="403.7" r="1.12"/><circle cx="226.8" cy="407.5" r="1.12"/><circle cx="220.9" cy="412.1" r="1.12"/><circle cx="224.9" cy="413.7" r="1.12"/><circle cx="228.9" cy="413.7" r="1.12"/><circle cx="235.6" cy="414.2" r="1.12"/><circle cx="213.9" cy="415.6" r="1.12"/><circle cx="217.9" cy="417.2" r="1.12"/><circle cx="221.4" cy="418" r="1.12"/><circle cx="228.9" cy="418" r="1.12"/><circle cx="232.4" cy="417.2" r="1.12"/><circle cx="215.3" cy="424.2" r="1.12"/><circle cx="219.3" cy="425.4" r="1.12"/><circle cx="222.8" cy="425.9" r="1.12"/><circle cx="226.8" cy="425.7" r="1.12"/><circle cx="230.7" cy="424.8" r="1.12"/><circle cx="234.5" cy="423.6" r="1.12"/><circle cx="213.9" cy="427.3" r="1.12"/><circle cx="235.6" cy="426.9" r="1.12"/><circle cx="217.6" cy="429.2" r="1.12"/><circle cx="221.4" cy="430.4" r="1.12"/><circle cx="224.9" cy="431.2" r="1.12"/><circle cx="228.9" cy="429.4" r="1.12"/><circle cx="232.4" cy="428" r="1.12"/><circle cx="220.9" cy="434.1" r="1.12"/><circle cx="228.9" cy="435.9" r="1.12"/><circle cx="224.9" cy="439" r="1.12"/></g>
<g><path class="vt" d="M71.4 396V422.2"/><path class="iq" d="M64.7 396H78.1 M64.7 422.2H78.1"/><path class="md" d="M55.7 410.3H87.1"/><path class="vt" d="M109.8 400.4V422.1"/><path class="iq" d="M103.4 400.4H116.2 M103.4 422.1H116.2"/><path class="md" d="M94.1 414.5H125.5"/><path class="vt" d="M147.9 407.2V421.1"/><path class="iq" d="M141 407.2H154.8 M141 421.1H154.8"/><path class="md" d="M132.3 416.3H163.5"/><path class="vt" d="M186.6 387.4V418.6"/><path class="iq" d="M179.9 387.4H193.3 M179.9 418.6H193.3"/><path class="md" d="M170.9 402.8H202.3"/><path class="vt" d="M224.9 411V427.1"/><path class="iq" d="M218.3 411H231.5 M218.3 427.1H231.5"/><path class="md" d="M209.3 419.2H240.5"/></g>
<text x="261.1" y="251.8" class="let">D</text>
<text x="299.4" y="263.9" class="tit" textLength="187.8" lengthAdjust="spacingAndGlyphs">Longitudinal ADAMTS13 in ischemic stroke</text>
<text x="377.8" y="296" class="pt" textLength="30.5" lengthAdjust="spacing">p=.0092</text>
<path class="br" d="M322.5 301.45H463.5 M322.5 295.9V307.2 M463.5 295.9V307.2"/>
<path class="dt" d="M307 320.5H480.3"/>
<path class="dt" d="M307 386.5H480.3"/>
<path class="ax" d="M305 299.5V450"/>
<path class="axx" d="M304.4 449.4H481.4"/>
<path class="tk" d="M301.8 302.5H305"/>
<text x="298.3" y="305.5" class="yl">150</text>
<path class="tk" d="M301.8 351.5H305"/>
<text x="298.3" y="354.5" class="yl">100</text>
<path class="tk" d="M301.8 400.4H305"/>
<text x="298.3" y="403.4" class="yl">50</text>
<path class="tk" d="M301.8 449.4H305"/>
<text x="298.3" y="452.4" class="yl">0</text>
<path class="tk" d="M323.3 449.4V452.4"/>
<text class="xl" transform="translate(325.9 459.6) rotate(-45)" textLength="42.77" lengthAdjust="spacing">AD13 Ac t0</text>
<path class="tk" d="M358.2 449.4V452.4"/>
<text class="xl" transform="translate(360.8 459.6) rotate(-45)" textLength="42.77" lengthAdjust="spacing">AD13 Ac t1</text>
<path class="tk" d="M393.1 449.4V452.4"/>
<text class="xl" transform="translate(395.7 459.6) rotate(-45)" textLength="42.77" lengthAdjust="spacing">AD13 Ac t2</text>
<path class="tk" d="M428.3 449.4V452.4"/>
<text class="xl" transform="translate(430.9 459.6) rotate(-45)" textLength="42.77" lengthAdjust="spacing">AD13 Ac t3</text>
<path class="tk" d="M463.6 449.4V452.4"/>
<text class="xl" transform="translate(466.2 459.6) rotate(-45)" textLength="42.77" lengthAdjust="spacing">AD13 Ac t4</text>
<path class="ylp" transform="translate(277.2 383) rotate(-90)" d="M0.5 0V-7 M2.5 -7V-2.2Q2.5 0 4.0 0Q5.5 0 5.5 -2.2V-7 M6.6 0.3L9.2 -7.3 M12.5 -7V0M12.5 -2.6Q12.5 -5.3 11.1 -5.3Q9.8 -5.3 9.8 -2.6Q9.8 0 11.1 0Q12.5 0 12.5 -2.6 M15.5 -7V-0.5H17.9"/>
<g fill="#a80024"><circle cx="318.8" cy="337.6" r="1.15"/><circle cx="322.5" cy="339" r="1.15"/><circle cx="326.2" cy="337.8" r="1.15"/><circle cx="320.8" cy="344.4" r="1.15"/><circle cx="324.3" cy="347.1" r="1.15"/><circle cx="312" cy="347.6" r="1.15"/><circle cx="314.7" cy="348.7" r="1.15"/><circle cx="317.2" cy="350" r="1.15"/><circle cx="319.6" cy="350.7" r="1.15"/><circle cx="322.5" cy="351.7" r="1.15"/><circle cx="325.3" cy="351" r="1.15"/><circle cx="327.6" cy="350.7" r="1.15"/><circle cx="330.3" cy="350" r="1.15"/><circle cx="332.9" cy="348" r="1.15"/><circle cx="312" cy="352.6" r="1.15"/><circle cx="314.7" cy="353.4" r="1.15"/><circle cx="317.7" cy="354.4" r="1.15"/><circle cx="321.1" cy="356.1" r="1.15"/><circle cx="324" cy="356.1" r="1.15"/><circle cx="327.2" cy="355.9" r="1.15"/><circle cx="329.9" cy="353.9" r="1.15"/><circle cx="332.9" cy="352.6" r="1.15"/><circle cx="312" cy="357.3" r="1.15"/><circle cx="314.5" cy="357.8" r="1.15"/><circle cx="317" cy="358.3" r="1.15"/><circle cx="319.5" cy="358.8" r="1.15"/><circle cx="322" cy="359.2" r="1.15"/><circle cx="324.5" cy="359.2" r="1.15"/><circle cx="327" cy="358.8" r="1.15"/><circle cx="329.5" cy="358.3" r="1.15"/><circle cx="332" cy="357.8" r="1.15"/><circle cx="334" cy="357.3" r="1.15"/><circle cx="312.8" cy="362.7" r="1.15"/><circle cx="315.2" cy="363.7" r="1.15"/><circle cx="317.7" cy="364.3" r="1.15"/><circle cx="320.6" cy="362.2" r="1.15"/><circle cx="324.3" cy="362.7" r="1.15"/><circle cx="327.4" cy="363.7" r="1.15"/><circle cx="330.3" cy="363.2" r="1.15"/><circle cx="332.9" cy="362.4" r="1.15"/><circle cx="312.3" cy="367.1" r="1.15"/><circle cx="314.7" cy="367.6" r="1.15"/><circle cx="317.7" cy="368.5" r="1.15"/><circle cx="320.6" cy="369" r="1.15"/><circle cx="325" cy="368.8" r="1.15"/><circle cx="327.9" cy="368.2" r="1.15"/><circle cx="330.3" cy="367.6" r="1.15"/><circle cx="332.5" cy="366.9" r="1.15"/><circle cx="318.6" cy="370.5" r="1.15"/><circle cx="322.5" cy="371" r="1.15"/><circle cx="312.3" cy="371.8" r="1.15"/><circle cx="332.8" cy="371.2" r="1.15"/><circle cx="330.1" cy="372.9" r="1.15"/><circle cx="314.9" cy="374.1" r="1.15"/><circle cx="317.7" cy="374.7" r="1.15"/><circle cx="320.1" cy="374.9" r="1.15"/><circle cx="325" cy="374.7" r="1.15"/><circle cx="327.6" cy="374.4" r="1.15"/><circle cx="331.5" cy="376" r="1.15"/><circle cx="311.8" cy="378" r="1.15"/><circle cx="315.5" cy="379" r="1.15"/><circle cx="320.6" cy="379.8" r="1.15"/><circle cx="324" cy="379.6" r="1.15"/><circle cx="327.9" cy="377.8" r="1.15"/><circle cx="313.6" cy="381.9" r="1.15"/><circle cx="317.2" cy="382.5" r="1.15"/><circle cx="333.1" cy="381.9" r="1.15"/><circle cx="320.8" cy="384.8" r="1.15"/><circle cx="326" cy="384.8" r="1.15"/><circle cx="327.9" cy="385.6" r="1.15"/><circle cx="329.9" cy="384.1" r="1.15"/><circle cx="315.5" cy="388.7" r="1.15"/><circle cx="324" cy="389" r="1.15"/><circle cx="313.6" cy="391.7" r="1.15"/><circle cx="320.8" cy="390" r="1.15"/><circle cx="317.2" cy="392.6" r="1.15"/><circle cx="326.2" cy="392.6" r="1.15"/><circle cx="329.6" cy="390.7" r="1.15"/><circle cx="318.8" cy="395.9" r="1.15"/><circle cx="322.5" cy="394.9" r="1.15"/><circle cx="322.5" cy="399.5" r="1.15"/><circle cx="326.2" cy="398.8" r="1.15"/><circle cx="320.8" cy="406.6" r="1.15"/><circle cx="326.2" cy="406.9" r="1.15"/><circle cx="320.8" cy="411.8" r="1.15"/><circle cx="324.3" cy="410.2" r="1.15"/><rect x="360.35" y="342.75" width="2.1" height="2.1"/><rect x="353.05" y="344.65" width="2.1" height="2.1"/><rect x="356.95" y="346.65" width="2.1" height="2.1"/><rect x="349.65" y="350.05" width="2.1" height="2.1"/><rect x="353.35" y="350.75" width="2.1" height="2.1"/><rect x="360.15" y="351.55" width="2.1" height="2.1"/><rect x="363.85" y="350.55" width="2.1" height="2.1"/><rect x="356.95" y="353.45" width="2.1" height="2.1"/><rect x="355.05" y="355.45" width="2.1" height="2.1"/><rect x="349.65" y="359.85" width="2.1" height="2.1"/><rect x="358.95" y="358.15" width="2.1" height="2.1"/><rect x="363.85" y="359.85" width="2.1" height="2.1"/><rect x="353.05" y="361.55" width="2.1" height="2.1"/><rect x="356.95" y="363.45" width="2.1" height="2.1"/><rect x="360.35" y="363.05" width="2.1" height="2.1"/><rect x="346.55" y="364.95" width="2.1" height="2.1"/><rect x="367.05" y="365.35" width="2.1" height="2.1"/><rect x="355.55" y="368.55" width="2.1" height="2.1"/><rect x="357.95" y="368.85" width="2.1" height="2.1"/><rect x="349.65" y="371.95" width="2.1" height="2.1"/><rect x="353.35" y="373.95" width="2.1" height="2.1"/><rect x="358.25" y="373.15" width="2.1" height="2.1"/><rect x="361.85" y="371.25" width="2.1" height="2.1"/><rect x="355.05" y="377.65" width="2.1" height="2.1"/><rect x="349.65" y="379.65" width="2.1" height="2.1"/><rect x="353.35" y="380.95" width="2.1" height="2.1"/><rect x="356.95" y="379.05" width="2.1" height="2.1"/><rect x="360.35" y="380.95" width="2.1" height="2.1"/><rect x="363.85" y="379.85" width="2.1" height="2.1"/><rect x="356.95" y="383.45" width="2.1" height="2.1"/><rect x="356.65" y="392.45" width="2.1" height="2.1"/><rect x="358.65" y="393.95" width="2.1" height="2.1"/><rect x="355.05" y="397.55" width="2.1" height="2.1"/><rect x="355.05" y="404.35" width="2.1" height="2.1"/><rect x="358.65" y="406.65" width="2.1" height="2.1"/><rect x="356.65" y="418.05" width="2.1" height="2.1"/><path d="M387.8 343.14L389.02 345.28L386.58 345.28Z"/><path d="M398.6 343.14L399.82 345.28L397.38 345.28Z"/><path d="M395 345.04L396.22 347.18L393.78 347.18Z"/><path d="M391.3 347.54L392.52 349.68L390.08 349.68Z"/><path d="M384.2 349.24L385.42 351.38L382.98 351.38Z"/><path d="M400.3 348.64L401.52 350.78L399.08 350.78Z"/><path d="M387.8 351.84L389.02 353.98L386.58 353.98Z"/><path d="M396.6 350.64L397.82 352.78L395.38 352.78Z"/><path d="M389.8 354.14L391.02 356.28L388.58 356.28Z"/><path d="M396.6 355.84L397.82 357.98L395.38 357.98Z"/><path d="M393 358.04L394.22 360.18L391.78 360.18Z"/><path d="M396.6 360.64L397.82 362.78L395.38 362.78Z"/><path d="M383.2 363.84L384.42 365.98L381.98 365.98Z"/><path d="M389.8 363.34L391.02 365.48L388.58 365.48Z"/><path d="M386.2 365.84L387.42 367.98L384.98 367.98Z"/><path d="M399.8 366.54L401.02 368.68L398.58 368.68Z"/><path d="M403 365.54L404.22 367.68L401.78 367.68Z"/><path d="M389.8 368.44L391.02 370.58L388.58 370.58Z"/><path d="M396.6 368.44L397.82 370.58L395.38 370.58Z"/><path d="M393 368.74L394.22 370.88L391.78 370.88Z"/><path d="M393 373.64L394.22 375.78L391.78 375.78Z"/><path d="M398.6 374.64L399.82 376.78L397.38 376.78Z"/><path d="M387.8 376.74L389.02 378.88L386.58 378.88Z"/><path d="M395 377.24L396.22 379.38L393.78 379.38Z"/><path d="M391.3 378.74L392.52 380.88L390.08 380.88Z"/><path d="M389.8 383.34L391.02 385.48L388.58 385.48Z"/><path d="M396.6 382.34L397.82 384.48L395.38 384.48Z"/><path d="M393 385.34L394.22 387.48L391.78 387.48Z"/><path d="M391.3 393.14L392.52 395.28L390.08 395.28Z"/><path d="M395.2 391.84L396.42 393.98L393.98 393.98Z"/><path d="M430.2 334.36L431.42 332.22L428.98 332.22Z"/><path d="M426.5 337.26L427.72 335.12L425.28 335.12Z"/><path d="M426.5 342.16L427.72 340.02L425.28 340.02Z"/><path d="M430.2 346.06L431.42 343.92L428.98 343.92Z"/><path d="M432.2 353.36L433.42 351.22L430.98 351.22Z"/><path d="M424.8 356.06L426.02 353.92L423.58 353.92Z"/><path d="M428.5 356.06L429.72 353.92L427.28 353.92Z"/><path d="M430.2 361.16L431.42 359.02L428.98 359.02Z"/><path d="M426.5 364.56L427.72 362.42L425.28 362.42Z"/><path d="M432.2 366.26L433.42 364.12L430.98 364.12Z"/><path d="M424.8 368.16L426.02 366.02L423.58 366.02Z"/><path d="M428.5 369.66L429.72 367.52L427.28 367.52Z"/><path d="M424.8 373.86L426.02 371.72L423.58 371.72Z"/><path d="M432.2 375.76L433.42 373.62L430.98 373.62Z"/><path d="M428.5 377.76L429.72 375.62L427.28 375.62Z"/><path d="M428.5 387.26L429.72 385.12L427.28 385.12Z"/><path d="M428.5 397.46L429.72 395.32L427.28 395.32Z"/><circle cx="462" cy="329" r="1.12"/><circle cx="465.6" cy="332.9" r="1.12"/><circle cx="463.7" cy="337.8" r="1.12"/><circle cx="454.9" cy="340" r="1.12"/><circle cx="458.4" cy="340.8" r="1.12"/><circle cx="468.9" cy="340.8" r="1.12"/><circle cx="472.5" cy="340" r="1.12"/><circle cx="462" cy="343.9" r="1.12"/><circle cx="465.6" cy="343.9" r="1.12"/><circle cx="460.4" cy="348.8" r="1.12"/><circle cx="463.7" cy="349.8" r="1.12"/><circle cx="467.4" cy="349.5" r="1.12"/><circle cx="454.9" cy="353" r="1.12"/><circle cx="458.4" cy="354" r="1.12"/><circle cx="472.5" cy="353.7" r="1.12"/><circle cx="465.6" cy="356.3" r="1.12"/><circle cx="456.7" cy="358" r="1.12"/><circle cx="460.4" cy="360.5" r="1.12"/><circle cx="467.4" cy="360.5" r="1.12"/><circle cx="471.1" cy="360.2" r="1.12"/><circle cx="463.7" cy="362.1" r="1.12"/><circle cx="463.7" cy="371.2" r="1.12"/><circle cx="469.1" cy="372.9" r="1.12"/><circle cx="458.4" cy="375.1" r="1.12"/><circle cx="462" cy="377.1" r="1.12"/><circle cx="465.6" cy="376.4" r="1.12"/><circle cx="463.7" cy="384.9" r="1.12"/><circle cx="458.4" cy="389.1" r="1.12"/><circle cx="462" cy="391" r="1.12"/><circle cx="465.6" cy="390.4" r="1.12"/><circle cx="469.1" cy="388.8" r="1.12"/></g>
<g><path class="vt" d="M322.5 357.8V379"/><path class="iq" d="M316 357.8H329 M316 379H329"/><path class="md" d="M308.2 365.3H336.8"/><path class="vt" d="M357.9 359.4V380.4"/><path class="iq" d="M351.6 359.4H364.2 M351.6 380.4H364.2"/><path class="md" d="M343.1 368.4H372.7"/><path class="vt" d="M393 352.6V377.1"/><path class="iq" d="M386.8 352.6H399.2 M386.8 377.1H399.2"/><path class="md" d="M378.4 365.7H407.6"/><path class="vt" d="M428.4 348.5V373.7"/><path class="iq" d="M422.2 348.5H434.6 M422.2 373.7H434.6"/><path class="md" d="M413.9 362.2H442.9"/><path class="vt" d="M463.6 343.7V373.9"/><path class="iq" d="M457.3 343.7H469.9 M457.3 373.9H469.9"/><path class="md" d="M449 354.8H478.2"/></g>
<text x="363.5" y="503.0" class="xt" textLength="59.2" lengthAdjust="spacingAndGlyphs">ADAMTS13 activity</text>
</svg>
</body></html>
